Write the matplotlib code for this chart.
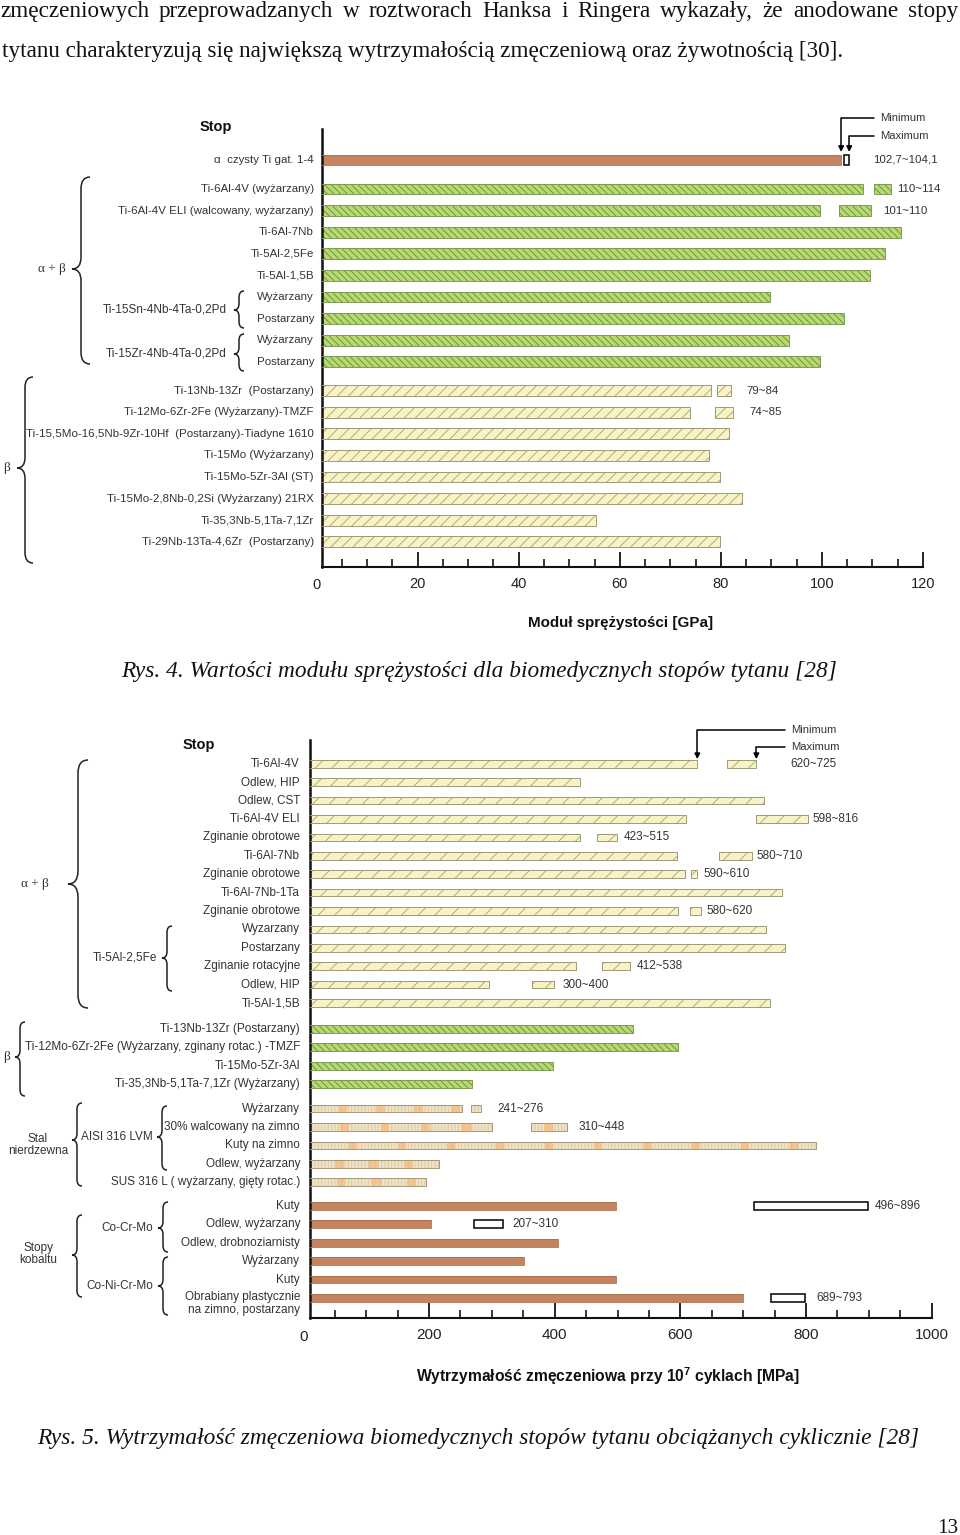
import numpy as np
import matplotlib
matplotlib.use('Agg')
import matplotlib.pyplot as plt
from matplotlib.path import Path
from matplotlib.patches import PathPatch
from matplotlib.ticker import MultipleLocator

plt.rcParams['font.family'] = ['Liberation Sans', 'DejaVu Sans']
plt.rcParams['hatch.linewidth'] = 0.6
plt.rcParams['mathtext.fontset'] = 'custom'
plt.rcParams['mathtext.rm'] = 'Liberation Sans'
plt.rcParams['mathtext.bf'] = 'Liberation Sans:bold'

W, H = 960, 1535

# page text
para_line1 = 'zmęczeniowych przeprowadzanych w roztworach Hanksa i Ringera wykazały, że anodowane stopy'
para_line2 = 'tytanu charakteryzują się największą wytrzymałością zmęczeniową oraz żywotnością [30].'
caption4 = 'Rys. 4. Wartości modułu sprężystości dla biomedycznych stopów tytanu [28]'
caption5 = 'Rys. 5. Wytrzymałość zmęczeniowa biomedycznych stopów tytanu obciążanych cyklicznie [28]'
page_no = '13'

# Rys. 4 - modul sprezystosci [GPa]
e_alpha_labels = ['α  czysty Ti gat. 1-4']
e_alpha_vals = [103.8]
e_ab_labels = ['Ti-6Al-4V (wyżarzany)', 'Ti-6Al-4V ELI (walcowany, wyżarzany)', 'Ti-6Al-7Nb',
               'Ti-5Al-2,5Fe', 'Ti-5Al-1,5B', 'Wyżarzany', 'Postarzany', 'Wyżarzany', 'Postarzany']
e_ab_vals = [108.2, 99.7, 115.7, 112.4, 109.6, 89.7, 104.4, 93.5, 99.6]
e_b_labels = ['Ti-13Nb-13Zr  (Postarzany)', 'Ti-12Mo-6Zr-2Fe (Wyżarzany)-TMZF',
              'Ti-15,5Mo-16,5Nb-9Zr-10Hf  (Postarzany)-Tiadyne 1610', 'Ti-15Mo (Wyżarzany)',
              'Ti-15Mo-5Zr-3Al (ST)', 'Ti-15Mo-2,8Nb-0,2Si (Wyżarzany) 21RX',
              'Ti-35,3Nb-5,1Ta-7,1Zr', 'Ti-29Nb-13Ta-4,6Zr  (Postarzany)']
e_b_vals = [78.0, 73.8, 81.7, 77.7, 79.9, 84.2, 55.3, 79.9]
e_rng_rows = [0, 1, 2, 10, 11]
e_rng_lo = [104.4, 110.3, 103.4, 79.2, 78.9]
e_rng_hi = [105.4, 113.6, 109.7, 82.0, 82.5]
e_rng_text = ['102,7~104,1', '110~114', '101~110', '79~84', '74~85']
e_xticks = [20, 40, 60, 80, 100, 120]

# Rys. 5 - wytrzymalosc zmeczeniowa [MPa]
f_ab_labels = ['Ti-6Al-4V', 'Odlew, HIP', 'Odlew, CST', 'Ti-6Al-4V ELI', 'Zginanie obrotowe',
               'Ti-6Al-7Nb', 'Zginanie obrotowe', 'Ti-6Al-7Nb-1Ta', 'Zginanie obrotowe',
               'Wyzarzany', 'Postarzany', 'Zginanie rotacyjne', 'Odlew, HIP', 'Ti-5Al-1,5B']
f_ab_vals = [627, 441, 733, 609, 440, 595, 608, 761, 597, 736, 766, 434, 295, 742]
f_b_labels = ['Ti-13Nb-13Zr (Postarzany)', 'Ti-12Mo-6Zr-2Fe (Wyżarzany, zginany rotac.) -TMZF',
              'Ti-15Mo-5Zr-3Al', 'Ti-35,3Nb-5,1Ta-7,1Zr (Wyżarzany)']
f_b_vals = [524, 597, 398, 268]
f_st_labels = ['Wyżarzany', '30% walcowany na zimno', 'Kuty na zimno', 'Odlew, wyżarzany',
               'SUS 316 L ( wyżarzany, gięty rotac.)']
f_st_vals = [252, 301, 816, 216, 195]
f_co_labels = ['Kuty', 'Odlew, wyżarzany', 'Odlew, drobnoziarnisty', 'Wyżarzany', 'Kuty',
               'Obrabiany plastycznie\nna zimno, postarzany']
f_co_vals = [498, 203, 405, 352, 498, 699]
f_rng_rows = [0, 3, 4, 5, 6, 8, 11, 12, 18, 19, 23, 24, 28]
f_rng_lo = [674, 721, 468, 661, 617, 616, 475, 364, 267, 363, 718, 272, 745]
f_rng_hi = [721, 803, 499, 714, 626, 633, 520, 399, 283, 420, 898, 317, 799]
f_rng_text = ['620~725', '598~816', '423~515', '580~710', '590~610', '580~620', '412~538',
              '300~400', '241~276', '310~448', '496~896', '207~310', '689~793']
f_xticks = [200, 400, 600, 800, 1000]

# styles
STY = {
    'brown': dict(fc='#C4845F', hc='#C4845F', hatch=None, ec='#A86E4E', lw=0.6),
    'green': dict(fc='#B8D873', hc='#5E8F2E', hatch='\\\\\\\\\\', ec='#7C9C56', lw=0.7),
    'yellow': dict(fc='#F8F3C6', hc='#A8A26E', hatch='///', ec='#9C9A78', lw=0.7),
    'yellow2': dict(fc='#F8F3C6', hc='#A8A26E', hatch='//', ec='#9C9A78', lw=0.7),
    'stal': dict(fc='#EFE2C6', hc='#D8C8A4', hatch='|||||', ec='#A89878', lw=0.7),
    'hollow': dict(fc='white', hc='white', hatch=None, ec='black', lw=1.1),
}
TXT = '#333333'

fig = plt.figure(figsize=(W / 100, H / 100), dpi=100)
page = fig.add_axes([0, 0, 1, 1])
page.set_xlim(0, W)
page.set_ylim(H, 0)
page.axis('off')
rend = fig.canvas.get_renderer()


def fit(t, width):
    w = t.get_window_extent(rend).width
    t.set_fontsize(t.get_fontsize() * width / w)


def px_axes(l, t, r, b):
    return fig.add_axes([l / W, 1 - b / H, (r - l) / W, (b - t) / H])


def row_positions(sizes, gaps):
    pos, start = [], 0.0
    for i, n in enumerate(sizes):
        pos.extend(start + np.arange(n))
        start += n - 1 + (gaps[i] if i < len(gaps) else 0)
    return np.array(pos)


def hbar(ax, y, w, left, kind, h):
    s = STY[kind]
    ax.barh(y, w, left=left, height=h, color=s['fc'], edgecolor=s['hc'], hatch=s['hatch'], lw=0, zorder=2)
    ax.barh(y, w, left=left, height=h, fill=False, edgecolor=s['ec'], lw=s['lw'], zorder=3)


def brace(x, y0, y1, w, ym=None):
    ym = (y0 + y1) / 2 if ym is None else ym
    r = w * 1.3
    verts = [(x + w, y0), (x, y0), (x, y0 + r), (x, ym - r), (x, ym), (x - w, ym),
             (x, ym), (x, ym + r), (x, y1 - r), (x, y1), (x + w, y1)]
    codes = [Path.MOVETO, Path.CURVE3, Path.CURVE3, Path.LINETO, Path.CURVE3, Path.CURVE3,
             Path.CURVE3, Path.CURVE3, Path.LINETO, Path.CURVE3, Path.CURVE3]
    page.add_patch(PathPatch(Path(verts, codes), fill=False, lw=1.1, ec='#222222'))


def chart(ax, pos, labels, vals, kinds, rng, bar_h, lab_pad, fs, gaps):
    for y, v, k in zip(pos, vals, kinds):
        hbar(ax, y, v, 0, k, bar_h)
    for (row, lo, hi, txt), g in zip(rng, gaps):
        k = 'hollow' if kinds[row] == 'brown' else kinds[row]
        hbar(ax, pos[row], hi - lo, lo, k, bar_h)
        ax.annotate(txt, xy=(hi, pos[row]), xytext=(g, 0), textcoords='offset pixels',
                    ha='left', va='center', fontsize=fs, color=TXT, annotation_clip=False)
    for y, lab in zip(pos, labels):
        if '\n' in lab:
            ax.annotate(lab, xy=(0, y), xycoords=('axes fraction', 'data'), xytext=(-lab_pad, 7),
                        textcoords='offset pixels', ha='right', va='top', multialignment='right',
                        fontsize=fs, color=TXT, linespacing=1.1)
        else:
            ax.annotate(lab, xy=(0, y), xycoords=('axes fraction', 'data'), xytext=(-lab_pad, 0),
                        textcoords='offset pixels', ha='right', va='center', fontsize=fs, color=TXT)
    for s in ('top', 'right'):
        ax.spines[s].set_visible(False)
    ax.spines['left'].set_linewidth(1.8)
    ax.spines['bottom'].set_linewidth(1.5)
    ax.spines['left'].set_color('#111111')
    ax.spines['bottom'].set_color('#111111')
    ax.tick_params(axis='y', left=False, labelleft=False)
    ax.patch.set_alpha(0)


def minmax(ax, x_min, x_max, y_tip, tx, ty_min, ty_max, fs):
    for lab, x, ty in (('Minimum', x_min, ty_min), ('Maximum', x_max, ty_max)):
        ax.annotate(lab, xy=(x, y_tip), xytext=(tx, ty), textcoords=page.transData,
                    ha='left', va='center', fontsize=fs, color=TXT, annotation_clip=False,
                    arrowprops=dict(arrowstyle='-|>', color='black', lw=1.1, shrinkA=2, shrinkB=0,
                                    mutation_scale=8,
                                    connectionstyle='angle,angleA=0,angleB=90,rad=0'))


# ---------------- Rys. 4 ----------------
ax1 = px_axes(322, 129, 923, 567)
pos1 = row_positions([1, 9, 8], [1.34, 1.34])
kinds1 = ['brown'] * 1 + ['green'] * 9 + ['yellow'] * 8
rng1 = list(zip(e_rng_rows, e_rng_lo, e_rng_hi, e_rng_text))
chart(ax1, pos1, e_alpha_labels + e_ab_labels + e_b_labels, e_alpha_vals + e_ab_vals + e_b_vals,
      kinds1, rng1, 0.5, 8, 8.25, [24, 7, 12, 15, 16])
ax1.set_xlim((322 - 316.6) / 5.053, 120)
ax1.set_ylim((567 - 160) / 21.6, (129 - 160) / 21.6)
ax1.set_xticks(e_xticks)
ax1.xaxis.set_minor_locator(MultipleLocator(5))
ax1.tick_params(axis='x', which='major', direction='in', length=10.8, width=1.2,
                labelsize=10.5, pad=7, labelcolor='#222222')
ax1.tick_params(axis='x', which='minor', direction='in', length=5.5, width=1.1)
ax1.annotate('0', xy=(0, 0), xycoords=('data', 'axes fraction'), xytext=(0, -18),
             textcoords='offset pixels', ha='center', va='center', fontsize=10.5,
             color='#222222', annotation_clip=False)
ax1.set_xlabel('Moduł sprężystości [GPa]', fontsize=10, fontweight='bold', color='#111111')
ax1.xaxis.label.set_va('center')
ax1.xaxis.set_label_coords((620.8 - 322) / 601, -(623.3 - 567) / 438)
fit(ax1.xaxis.label, 185)
minmax(ax1, e_alpha_vals[0], e_rng_hi[0], pos1[0] - 0.37, 880, 118, 136, 8.1)
page.text(200, 127, 'Stop', fontsize=10.5, fontweight='bold', ha='left', va='center', color='#111111')

# ---------------- Rys. 5 ----------------
ax2 = px_axes(310, 740, 931.7, 1318)
pos2 = row_positions([14, 4, 5, 6], [1.41, 1.33, 1.29])
kinds2 = ['yellow2'] * 14 + ['green'] * 4 + ['stal'] * 5 + ['brown'] * 6
rng2 = list(zip(f_rng_rows, f_rng_lo, f_rng_hi, f_rng_text))
chart(ax2, pos2, f_ab_labels + f_b_labels + f_st_labels + f_co_labels,
      f_ab_vals + f_b_vals + f_st_vals + f_co_vals, kinds2, rng2, 0.42, 10, 8.5,
      [34, 5, 7, 5, 7, 5, 7, 8, 16, 11, 7, 10, 11])

# orange flecks in the stainless steel texture
st_start = [56, 58, 72, 50, 53]
st_step = [60, 65, 78, 55, 56]
for i, (v, a, d) in enumerate(zip(f_st_vals, st_start, st_step)):
    row = 18 + i
    segs = [(0, v)] + [(lo, hi) for r, lo, hi in zip(f_rng_rows, f_rng_lo, f_rng_hi) if r == row]
    for s0, s1 in segs:
        xs = np.arange(a, s1, d)
        xs = xs[xs >= s0]
        wd = np.minimum(14, s1 - xs)
        ax2.barh(np.full(len(xs), pos2[row]), wd, left=xs, height=0.42, color='#F5C48E',
                 edgecolor='#E8BA8A', hatch='|||', lw=0, zorder=2.5)

ax2.set_xlim((310 - 303.3) / 0.6286, 1000)
ax2.set_ylim((1318 - 763.8) / 18.4, (740 - 763.8) / 18.4)
ax2.set_xticks(f_xticks)
ax2.xaxis.set_minor_locator(MultipleLocator(50))
ax2.tick_params(axis='x', which='major', direction='in', length=10.8, width=1.2,
                labelsize=11, pad=7.5, labelcolor='#222222')
ax2.tick_params(axis='x', which='minor', direction='in', length=5.5, width=1.1)
ax2.annotate('0', xy=(0, 0), xycoords=('data', 'axes fraction'), xytext=(0, -19),
             textcoords='offset pixels', ha='center', va='center', fontsize=11,
             color='#222222', annotation_clip=False)
ax2.set_xlabel(r'Wytrzymałość zmęczeniowa przy 10$^{\mathbf{7}}$ cyklach [MPa]', fontsize=10,
               fontweight='bold', color='#111111')
ax2.xaxis.label.set_va('center')
ax2.xaxis.set_label_coords((607.5 - 310) / 621.7, -(1376 - 1318) / 578)
fit(ax2.xaxis.label, 385)
minmax(ax2, f_ab_vals[0], f_rng_hi[0], pos2[0] - 0.25, 791, 730, 746.5, 8.1)
page.text(183, 745, 'Stop', fontsize=10.5, fontweight='bold', ha='left', va='center', color='#111111')

# group braces and labels
for b in [(81, 177, 364, 9, 269), (25, 377, 563, 8, 468), (239, 291, 328, 5, 310),
          (239, 334, 371, 5, 354), (78, 760, 1008, 10, 884), (167, 926, 991, 5, 958),
          (20, 1022, 1096, 5, 1057), (77, 1103, 1186, 5, 1140), (162, 1106, 1170, 5, 1137),
          (77, 1215, 1297, 5, 1255), (163, 1202, 1252, 5, 1228), (163, 1257, 1315, 5, 1286)]:
    brace(*b)

grp = dict(fontsize=8.5, color=TXT, va='center')
greek = dict(family='Liberation Serif', fontsize=9.5, color=TXT, va='center')
page.text(52, 269, 'α + β', ha='center', **greek)
page.text(3, 468, 'β', ha='left', **greek)
page.text(227, 310, 'Ti-15Sn-4Nb-4Ta-0,2Pd', ha='right', **grp)
page.text(227, 354, 'Ti-15Zr-4Nb-4Ta-0,2Pd', ha='right', **grp)
page.text(35, 884, 'α + β', ha='center', **greek)
page.text(157, 958, 'Ti-5Al-2,5Fe', ha='right', **grp)
page.text(3, 1057, 'β', ha='left', **greek)
page.text(38, 1145, 'Stal\nnierdzewna', ha='center', multialignment='center', linespacing=1.1, **grp)
page.text(153, 1137, 'AISI 316 LVM', ha='right', **grp)
page.text(38, 1254, 'Stopy\nkobaltu', ha='center', multialignment='center', linespacing=1.1, **grp)
page.text(153, 1228, 'Co-Cr-Mo', ha='right', **grp)
page.text(153, 1286, 'Co-Ni-Cr-Mo', ha='right', **grp)

# page text
serif = dict(family='Liberation Serif', color='#111111', va='baseline')
t2 = page.text(2, 57, para_line2, fontsize=16, ha='left', **serif)
fit(t2, 843)
words = para_line1.split()
objs = [page.text(0, 17, wd, fontsize=t2.get_fontsize(), ha='left', **serif) for wd in words]
wds = [o.get_window_extent(rend).width for o in objs]
gap = (958 - sum(wds)) / (len(words) - 1)
x = 0.0
for o, wd in zip(objs, wds):
    o.set_x(x)
    x += wd + gap

c4 = page.text(479, 677, caption4, fontsize=16, style='italic', ha='center', **serif)
fit(c4, 714)
c5 = page.text(478, 1444, caption5, fontsize=16, style='italic', ha='center', **serif)
fit(c5, 880)
pn = page.text(958, 1533, page_no, fontsize=16, ha='right', **serif)
fit(pn, 21)

fig.savefig('out.png', dpi=100)
